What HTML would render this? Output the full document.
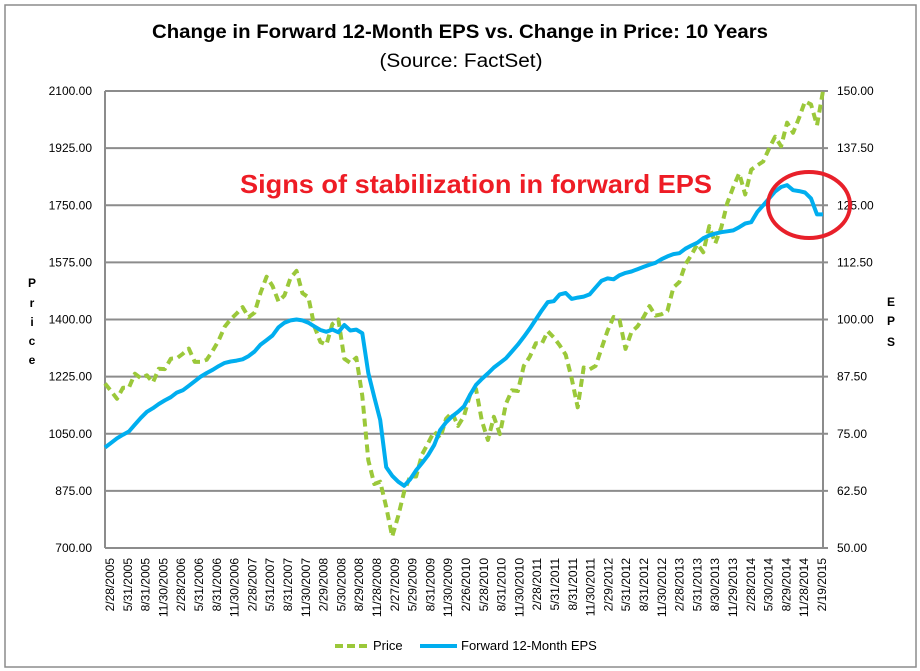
<!DOCTYPE html>
<html><head><meta charset="utf-8"><style>
body{margin:0;background:#fff;}
svg{display:block;font-family:"Liberation Sans",sans-serif;}
</style></head><body>
<svg id="chart" width="920" height="671" viewBox="0 0 920 671">
<rect x="5" y="5" width="911" height="662" fill="#fff" stroke="#8c8c8c" stroke-width="1.5"/>
<text x="460" y="38" text-anchor="middle" font-size="19" font-weight="bold" textLength="616" lengthAdjust="spacingAndGlyphs">Change in Forward 12-Month EPS vs. Change in Price: 10 Years</text>
<text x="461" y="67" text-anchor="middle" font-size="19" textLength="163" lengthAdjust="spacingAndGlyphs">(Source: FactSet)</text>
<g id="grid"></g>
<g id="yl"></g>
<g id="yr"></g>
<g id="xl"></g>
<g id="series"></g>
<g font-size="12" font-weight="bold" text-anchor="middle">
<text x="32" y="287">P</text><text x="32" y="307">r</text><text x="32" y="326">i</text><text x="32" y="345">c</text><text x="32" y="364">e</text></g>
<g font-size="12" font-weight="bold" text-anchor="middle">
<text x="891" y="306">E</text><text x="891" y="325">P</text><text x="891" y="346">S</text></g>
<text x="240" y="193" font-size="26" font-weight="bold" fill="#ee1c25" textLength="472" lengthAdjust="spacingAndGlyphs">Signs of stabilization in forward EPS</text>
<ellipse cx="809" cy="205" rx="41" ry="33" fill="none" stroke="#e8202a" stroke-width="4"/>
<g>
<line x1="335" y1="646" x2="368" y2="646" stroke="#9bc83a" stroke-width="4" stroke-dasharray="8,4"/>
<text x="373" y="650" font-size="13">Price</text>
<line x1="420" y1="646" x2="457" y2="646" stroke="#00aeef" stroke-width="4"/>
<text x="461" y="650" font-size="13">Forward 12-Month EPS</text>
</g>
</svg>
<script>
const priceTicks=["700.00","875.00","1050.00","1225.00","1400.00","1575.00","1750.00","1925.00","2100.00"];
const epsTicks=["50.00","62.50","75.00","87.50","100.00","112.50","125.00","137.50","150.00"];
const xLabels=["2/28/2005","5/31/2005","8/31/2005","11/30/2005","2/28/2006","5/31/2006","8/31/2006","11/30/2006","2/28/2007","5/31/2007","8/31/2007","11/30/2007","2/29/2008","5/30/2008","8/29/2008","11/28/2008","2/27/2009","5/29/2009","8/31/2009","11/30/2009","2/26/2010","5/28/2010","8/31/2010","11/30/2010","2/28/2011","5/31/2011","8/31/2011","11/30/2011","2/29/2012","5/31/2012","8/31/2012","11/30/2012","2/28/2013","5/31/2013","8/30/2013","11/29/2013","2/28/2014","5/30/2014","8/29/2014","11/28/2014","2/19/2015"];
const priceValues=[1204,1181,1157,1191,1191,1234,1220,1229,1207,1249,1248,1280,1281,1295,1311,1270,1270,1277,1304,1336,1378,1401,1418,1438,1407,1421,1482,1531,1503,1455,1474,1527,1549,1481,1468,1379,1331,1323,1386,1400,1280,1267,1283,1166,969,896,903,826,735,798,873,919,919,987,1021,1057,1036,1096,1115,1074,1104,1169,1187,1089,1031,1102,1049,1141,1183,1181,1258,1286,1327,1326,1364,1345,1321,1292,1219,1131,1253,1247,1258,1312,1366,1408,1398,1310,1362,1379,1407,1441,1412,1416,1426,1498,1515,1569,1598,1631,1606,1686,1633,1682,1757,1806,1848,1783,1859,1872,1884,1924,1960,1931,2003,1972,2018,2068,2059,1995,2100];
const epsValues=[72,73,74,74.8,75.5,77,78.5,79.8,80.6,81.5,82.3,83,84,84.5,85.5,86.5,87.5,88.3,89,89.8,90.5,90.8,91,91.3,92,93,94.5,95.5,96.5,98.3,99.3,99.8,100,99.8,99.3,98.5,97.7,97.3,97.8,97.2,98.8,97.6,97.8,97,88.3,83,78,67.7,65.8,64.5,63.6,65,67,68.6,70.3,72.5,75.8,77.5,78.8,79.8,81,83.5,85.7,87,88.2,89.5,90.5,91.5,93,94.5,96.2,98,100,102,103.8,104,105.5,105.8,104.5,104.8,105,105.5,107,108.5,109,108.8,109.7,110.2,110.5,111,111.5,112,112.4,113.2,113.8,114.3,114.5,115.5,116.2,116.8,117.8,118.4,118.8,119.1,119.3,119.5,120.2,121,121.3,123.5,125,126.5,128,129,129.4,128.3,128.1,127.8,126.5,123,123];
const NS="http://www.w3.org/2000/svg";
const L=105,R=823,T=91,B=548;
const yP=v=>B-(v-700)/1400*(B-T);
const yE=v=>B-(v-50)/100*(B-T);
const xI=i=>L+i*(R-L)/(priceValues.length-1);
function mk(tag,attrs,parent){const e=document.createElementNS(NS,tag);for(const k in attrs)e.setAttribute(k,attrs[k]);parent.appendChild(e);return e;}
const grid=document.getElementById('grid'),yl=document.getElementById('yl'),yr=document.getElementById('yr'),xl=document.getElementById('xl'),ser=document.getElementById('series');
priceTicks.forEach((t,i)=>{
  const y=yP(parseFloat(t));
  const g=mk('line',{x1:L,y1:y,x2:R+5,y2:y,stroke:'#8c8c8c','stroke-width':2},grid);
  
  
  const a=mk('text',{x:92,y:y+4,'text-anchor':'end','font-size':12},yl);a.textContent=t;
  
  
});
epsTicks.forEach((t,i)=>{
  const y=yE(parseFloat(t));
  const a=mk('text',{x:837,y:y+4,'font-size':12},yr);a.textContent=t;
  
  
});
mk('line',{x1:L,y1:T,x2:L,y2:B,stroke:'#8c8c8c','stroke-width':2},grid);
mk('line',{x1:R,y1:T,x2:R,y2:B,stroke:'#8c8c8c','stroke-width':2},grid);
xLabels.forEach((t,i)=>{
  const x=110+i*(822-110)/(xLabels.length-1);
  const a=mk('text',{x:0,y:0,'text-anchor':'end','font-size':12,transform:`translate(${x+4},558) rotate(-90)`},xl);a.textContent=t;
  
  
});
const pp=priceValues.map((v,i)=>xI(i).toFixed(1)+','+yP(v).toFixed(1)).join(' ');
const p1=mk('polyline',{points:pp,fill:'none',stroke:'#9bc83a','stroke-width':4,'stroke-dasharray':'8,5','stroke-linejoin':'round'},ser);


const ep=epsValues.map((v,i)=>xI(i).toFixed(1)+','+yE(v).toFixed(1)).join(' ');
const p2=mk('polyline',{points:ep,fill:'none',stroke:'#00aeef','stroke-width':4,'stroke-linejoin':'round'},ser);


</script>
</body></html>
